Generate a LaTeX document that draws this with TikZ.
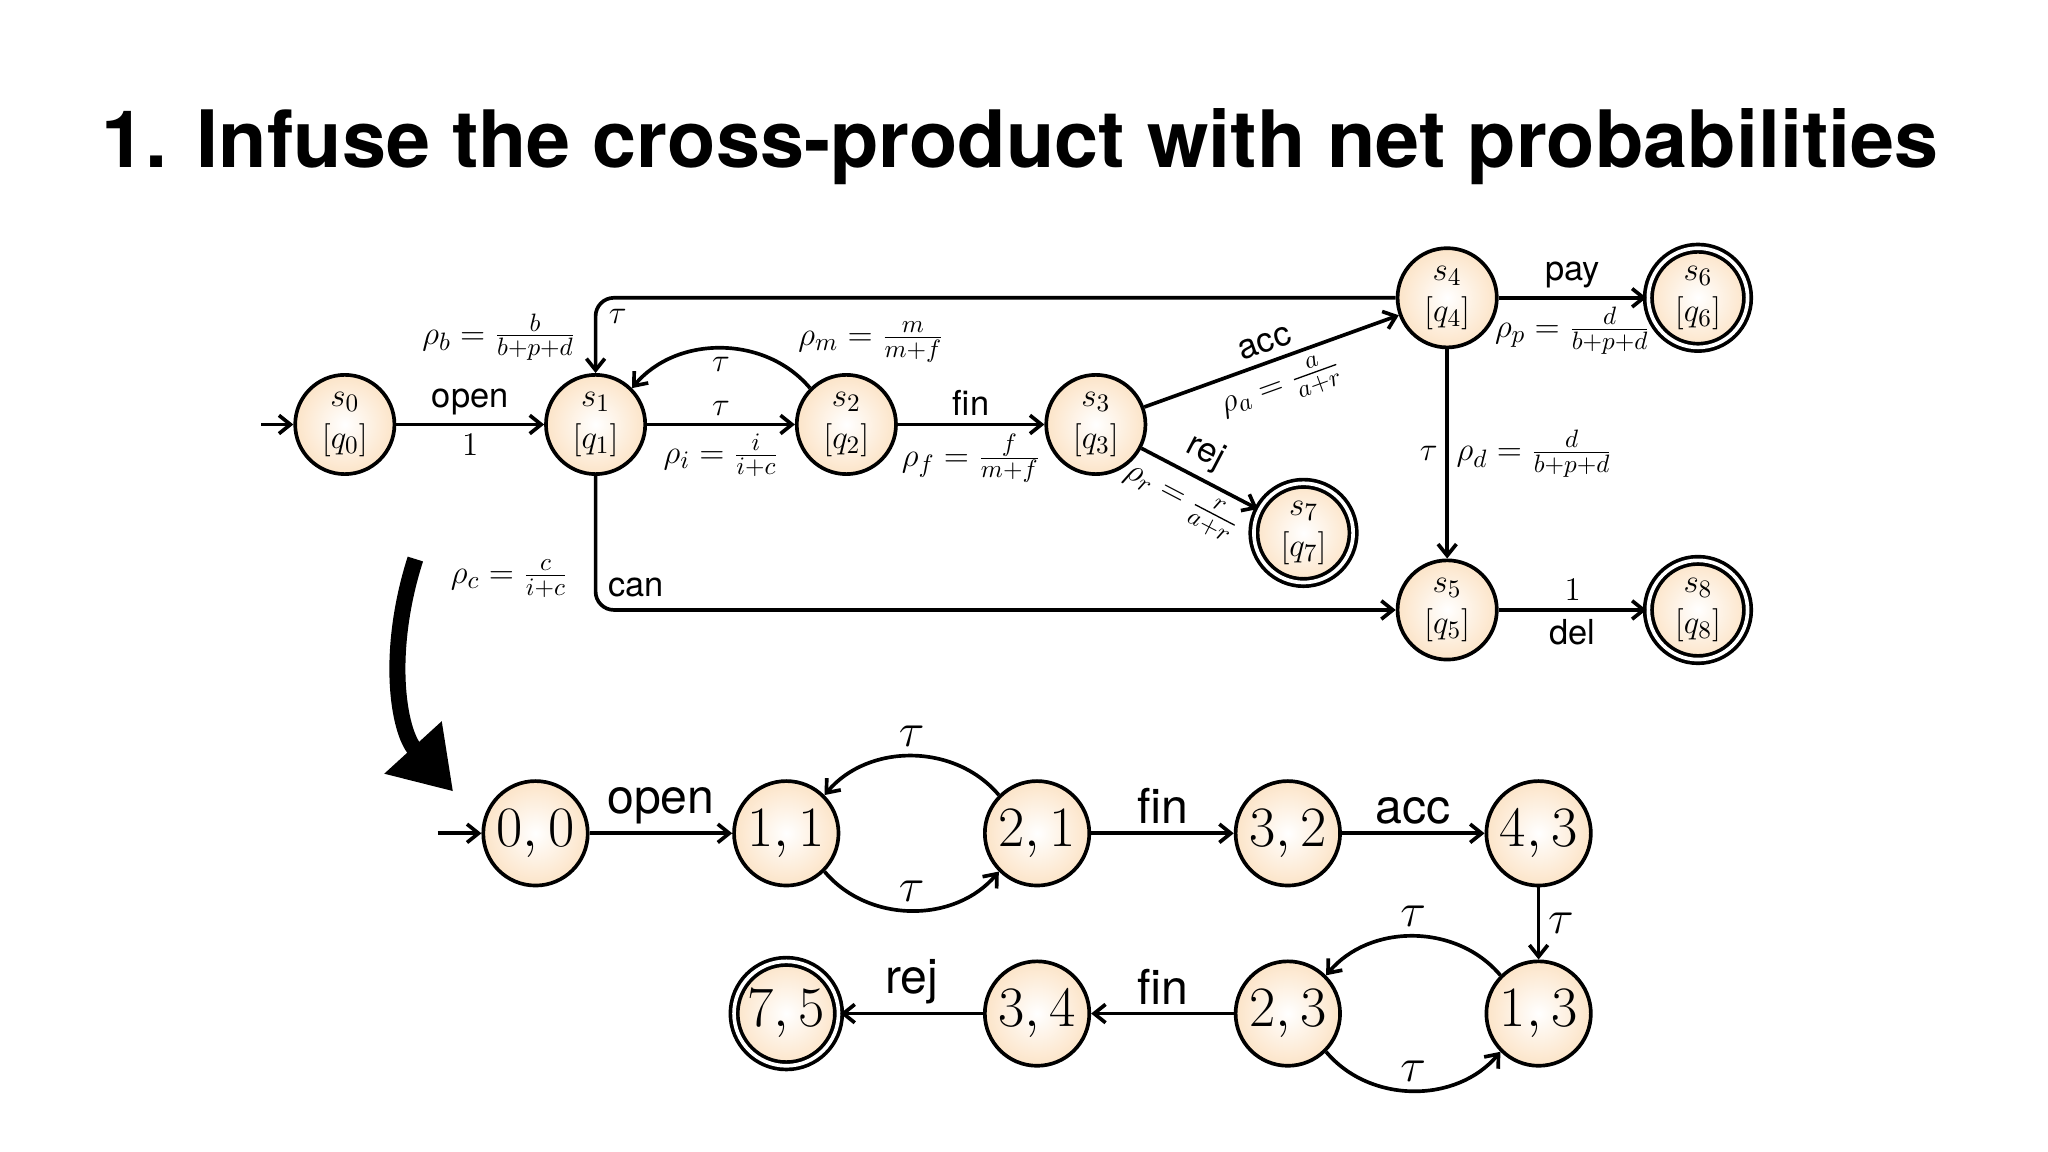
\documentclass[tikz,border=0pt]{standalone}
\usepackage{amsmath}
\usepackage{fontspec}
\newfontfamily\hv{TeX Gyre Heros}
\usetikzlibrary{arrows.meta,positioning}
\definecolor{stfill}{RGB}{252,228,200}
\tikzset{
  st/.style={circle,draw,line width=1.6pt,minimum size=1.52cm,inner sep=0pt,
    inner color=white,outer color=stfill,font=\fontsize{15}{18}\selectfont,align=center},
  acc/.style={st,double,double distance=1.6pt},
  bst/.style={st,minimum size=1.6cm,font=\fontsize{23}{26}\selectfont},
  bacc/.style={bst,double,double distance=1.6pt},
  ed/.style={line width=1.6pt,-{Straight Barb[length=5pt,width=8pt]}},
  lb/.style={font=\hv\fontsize{15}{17}\selectfont},
  bl/.style={font=\hv\fontsize{21}{24}\selectfont},
  pr/.style={font=\fontsize{15}{17}\selectfont},
  bt/.style={font=\fontsize{21}{23}\selectfont},
}
\begin{document}
\begin{tikzpicture}[x=0.02cm,y=-0.02cm]
	\useasboundingbox (0,0) rectangle (1568,882);
	\node[font=\hv\bfseries\fontsize{34.5}{38}\selectfont] (title) at (781,112) {1. Infuse the cross-product with net probabilities};
	% upper automaton
	\node[st] (s0) at (264,325) {$s_0$\\$[q_0]$};
	\node[st] (s1) at (456,325) {$s_1$\\$[q_1]$};
	\node[st] (s2) at (648,325) {$s_2$\\$[q_2]$};
	\node[st] (s3) at (839,325) {$s_3$\\$[q_3]$};
	\node[st] (s4) at (1108,228) {$s_4$\\$[q_4]$};
	\node[acc] (s6) at (1300,228) {$s_6$\\$[q_6]$};
	\node[acc] (s7) at (998,408) {$s_7$\\$[q_7]$};
	\node[st] (s5) at (1108,467) {$s_5$\\$[q_5]$};
	\node[acc] (s8) at (1300,467) {$s_8$\\$[q_8]$};
	\coordinate (i0) at (200,325);
	\draw[ed] (i0) -- (s0);
	\draw[ed] (s0) -- (s1) node[midway,above,lb]{open} node[midway,below,pr]{$1$};
	\draw[ed] (s1) -- (s2) node[midway,above,pr]{$\tau$} node[midway,below,pr]{$\rho_i=\frac{i}{i+c}$};
	\draw[ed] (s2.north west) to[bend right=50] node[midway,below,pr]{$\tau$} (s1.north east);
	\node[pr] (rm) at (667,262) {$\rho_m=\frac{m}{m+f}$};
	\draw[ed] (s2) -- (s3) node[midway,above,lb]{fin} node[midway,below,pr]{$\rho_f=\frac{f}{m+f}$};
	\draw[ed] (s3) -- (s4) node[midway,above,sloped,lb]{acc} node[midway,below,sloped,pr]{$\rho_a=\frac{a}{a+r}$};
	\draw[ed] (s3) -- (s7) node[pos=0.45,above,sloped,lb]{rej} node[pos=0.45,below,sloped,pr]{$\rho_r=\frac{r}{a+r}$};
	\draw[ed,rounded corners=8pt] (s4) -- (456,228) -- (s1);
	\node[pr] (tb) at (473,242) {$\tau$};
	\node[pr] (rb) at (382,258) {$\rho_b=\frac{b}{b+p+d}$};
	\draw[ed] (s4) -- (s6) node[midway,above,lb]{pay} node[midway,below,pr]{$\rho_p=\frac{d}{b+p+d}$};
	\draw[ed] (s4) -- (s5) node[midway,left,pr]{$\tau$} node[midway,right,pr]{$\rho_d=\frac{d}{b+p+d}$};
	\draw[ed,rounded corners=8pt] (s1) -- (456,467) -- (s5);
	\node[pr] (rc) at (390,443) {$\rho_c=\frac{c}{i+c}$};
	\node[lb] (can) at (487,450) {can};
	\draw[ed] (s5) -- (s8) node[midway,above,pr]{$1$} node[midway,below,lb]{del};
	% big arrow
	\coordinate (ba) at (318,428);
	\coordinate (bb) at (347,606);
	\draw[line width=7pt,-{Triangle[length=26pt,width=32pt]}] (ba) .. controls (295,500) and (305,560) .. (bb);
	% lower product
	\node[bst] (n00) at (410,638) {$0,0$};
	\node[bst] (n11) at (602,638) {$1,1$};
	\node[bst] (n21) at (794,638) {$2,1$};
	\node[bst] (n32) at (986,638) {$3,2$};
	\node[bst] (n43) at (1178,638) {$4,3$};
	\node[bst] (n13) at (1178,776) {$1,3$};
	\node[bst] (n23) at (986,776) {$2,3$};
	\node[bst] (n34) at (794,776) {$3,4$};
	\node[bacc] (n75) at (602,776) {$7,5$};
	\coordinate (i1) at (335,638);
	\draw[ed] (i1) -- (n00);
	\draw[ed] (n00) -- (n11) node[midway,above,bl]{open};
	\draw[ed] (n21.north west) to[bend right=50] node[midway,above,bt]{$\tau$} (n11.north east);
	\draw[ed] (n11.south east) to[bend right=50] node[midway,above,bt]{$\tau$} (n21.south west);
	\draw[ed] (n21) -- (n32) node[midway,above,bl]{fin};
	\draw[ed] (n32) -- (n43) node[midway,above,bl]{acc};
	\draw[ed] (n43) -- (n13) node[midway,right,bt]{$\tau$};
	\draw[ed] (n13.north west) to[bend right=50] node[midway,above,bt]{$\tau$} (n23.north east);
	\draw[ed] (n23.south east) to[bend right=50] node[midway,above,bt]{$\tau$} (n13.south west);
	\draw[ed] (n23) -- (n34) node[midway,above,bl]{fin};
	\draw[ed] (n34) -- (n75) node[midway,above,bl]{rej};
\end{tikzpicture}
\end{document}
